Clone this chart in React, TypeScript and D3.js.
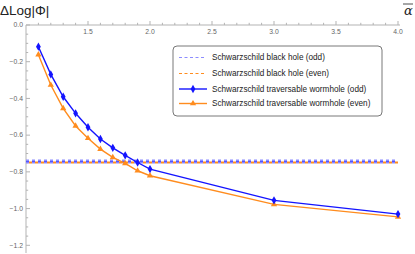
import * as d3 from 'd3';

// data
const alphaPts = [1.1, 1.2, 1.3, 1.4, 1.5, 1.6, 1.7, 1.8, 1.9, 2.0, 3.0, 4.0];
const wormholeOdd = [-0.118, -0.269, -0.391, -0.481, -0.557, -0.621, -0.669, -0.71, -0.749, -0.785, -0.955, -1.03];
const wormholeEven = [-0.162, -0.327, -0.454, -0.55, -0.617, -0.676, -0.721, -0.754, -0.794, -0.821, -0.977, -1.045];
const blackHoleOdd = -0.744;
const blackHoleEven = -0.749;
const xTicks = [1.5, 2.0, 2.5, 3.0, 3.5, 4.0];
const yTicks = [0, -0.2, -0.4, -0.6, -0.8, -1.0, -1.2];
const legendLabels = [
  'Schwarzschild black hole (odd)',
  'Schwarzschild black hole (even)',
  'Schwarzschild traversable wormhole (odd)',
  'Schwarzschild traversable wormhole (even)',
];

const W = 415;
const H = 254;
const BLUE = '#1414ff';
const ORANGE = '#ff8c1e';
const LAVENDER = '#8c8cff';
const AXIS = '#b3b3b3';
const LABEL = '#666';

export default function App() {
  const x = d3.scaleLinear().domain([1, 4]).range([26, 398]);
  const y = d3.scaleLinear().domain([0, -1.2]).range([25, 245.3]);

  const line = d3
    .line<number>()
    .x((_, i) => x(alphaPts[i]))
    .y((d) => y(d));

  const xMinor = d3.range(1.1, 4.001, 0.1).filter((v) => Math.abs(v * 2 - Math.round(v * 2)) > 0.01);
  const yMinor = d3.range(0, -1.26, -0.05).filter((v) => Math.abs(v * 5 - Math.round(v * 5)) > 0.01);

  const diamond = d3.symbol(d3.symbolDiamond, 20)() ?? '';
  const triangle = d3.symbol(d3.symbolTriangle, 17)() ?? '';

  const lx = 173;
  const ly = 46;
  const rows = [57.5, 73.5, 89, 103.5];

  return (
    <svg width={W} height={H} style={{ position: 'absolute', left: 0, top: 0 }} fontFamily="'Liberation Sans', Arial, sans-serif">
      <rect width={W} height={H} fill="white" />
      {/* axes */}
      <line x1={x(1)} x2={x(4) + 2} y1={y(0)} y2={y(0)} stroke={AXIS} />
      <line x1={x(1)} x2={x(1)} y1={y(0)} y2={253} stroke={AXIS} />
      {xTicks.map((t) => (
        <g key={t}>
          <line x1={x(t)} x2={x(t)} y1={y(0)} y2={y(0) - 4} stroke={AXIS} />
          <text x={x(t)} y={y(0) + 9} fontSize={6.8} fill={LABEL} textAnchor="middle">
            {t.toFixed(1)}
          </text>
        </g>
      ))}
      {xMinor.map((t) => (
        <line key={t} x1={x(t)} x2={x(t)} y1={y(0)} y2={y(0) - 2.2} stroke={AXIS} />
      ))}
      {yTicks.map((t) => (
        <g key={t}>
          <line x1={x(1)} x2={x(1) + 4} y1={y(t)} y2={y(t)} stroke={AXIS} />
          <text x={x(1) - 3} y={y(t) + 2.3} fontSize={6.8} fill={LABEL} textAnchor="end">
            {t === 0 ? '0.0' : '\u2212' + Math.abs(t).toFixed(1)}
          </text>
        </g>
      ))}
      {yMinor.map((t) => (
        <line key={t} x1={x(1)} x2={x(1) + 2.2} y1={y(t)} y2={y(t)} stroke={AXIS} />
      ))}
      <text x={0} y={15} fontSize={13.5} fill="#222">
        ΔLog|Φ|
      </text>
      <text x={404} y={15} fontSize={13} fontStyle="italic" fontFamily="'DejaVu Serif', serif" fill="#222">
        α
      </text>
      <line x1={403} x2={413} y1={4} y2={4} stroke="#222" strokeWidth={0.8} />

      {/* black hole levels */}
      <line x1={x(1)} x2={x(4)} y1={y(blackHoleOdd)} y2={y(blackHoleOdd)} stroke={LAVENDER} strokeWidth={4} strokeDasharray="3,3" />
      <line x1={x(1)} x2={x(4)} y1={y(blackHoleEven)} y2={y(blackHoleEven)} stroke={ORANGE} strokeWidth={2} strokeDasharray="3,3" strokeDashoffset={3} />
      <line x1={x(1)} x2={x(4)} y1={y(blackHoleOdd)} y2={y(blackHoleOdd)} stroke={BLUE} strokeOpacity={0.5} strokeWidth={1} strokeDasharray="3,3" />

      {/* wormhole curves */}
      <path d={line(wormholeEven) ?? ''} fill="none" stroke={ORANGE} strokeWidth={1.4} />
      {wormholeEven.map((v, i) => (
        <path key={i} d={triangle} transform={`translate(${x(alphaPts[i])},${y(v)})`} fill={ORANGE} />
      ))}
      <path d={line(wormholeOdd) ?? ''} fill="none" stroke={BLUE} strokeWidth={1.4} />
      {wormholeOdd.map((v, i) => (
        <path key={i} d={diamond} transform={`translate(${x(alphaPts[i])},${y(v)})`} fill={BLUE} />
      ))}

      {/* legend */}
      <rect x={lx} y={ly} width={209} height={70} rx={4} fill="white" stroke="#555" strokeWidth={0.8} />
      {legendLabels.map((lab, i) => {
        const yy = rows[i];
        return (
          <g key={lab}>
            {i === 0 && <line x1={179} x2={205} y1={yy} y2={yy} stroke={LAVENDER} strokeDasharray="3,2.5" />}
            {i === 1 && <line x1={179} x2={205} y1={yy} y2={yy} stroke={ORANGE} strokeDasharray="3,2.5" />}
            {i === 2 && (
              <>
                <line x1={179} x2={207} y1={yy} y2={yy} stroke={BLUE} strokeWidth={1.4} />
                <path d={diamond} transform={`translate(193,${yy})`} fill={BLUE} />
              </>
            )}
            {i === 3 && (
              <>
                <line x1={179} x2={207} y1={yy} y2={yy} stroke={ORANGE} strokeWidth={1.4} />
                <path d={triangle} transform={`translate(193,${yy})`} fill={ORANGE} />
              </>
            )}
            <text x={212} y={yy + 2.8} fontSize={8.2} fill="#222">
              {lab}
            </text>
          </g>
        );
      })}
    </svg>
  );
}
